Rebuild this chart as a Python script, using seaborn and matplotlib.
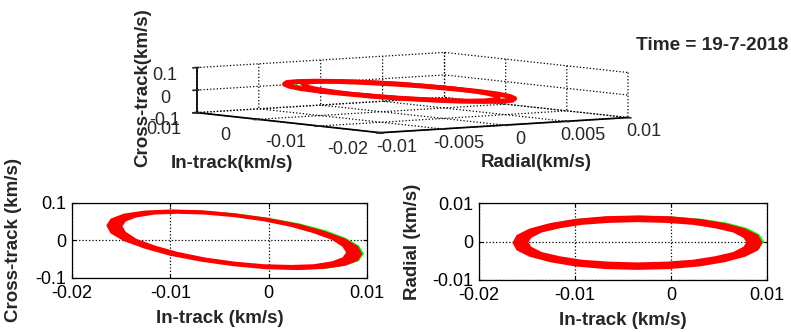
import numpy as np
import matplotlib
matplotlib.use("Agg")
import matplotlib.pyplot as plt
import seaborn as sns

# first orbit (outer edge of the red band), km/s
intrack_a = [0.0094, 0.0090, 0.0077, 0.0056, 0.0030, -0.0002, -0.0035, -0.0068, -0.0100, -0.0126, -0.0147, -0.0160,
             -0.0164, -0.0160, -0.0147, -0.0126, -0.0100, -0.0068, -0.0035, -0.0002, 0.0030, 0.0056, 0.0077, 0.0090]
radial_a = [-0.0003, -0.0021, -0.0037, -0.0051, -0.0062, -0.0069, -0.0071, -0.0069, -0.0062, -0.0051, -0.0037, -0.0021,
            -0.0003, 0.0015, 0.0031, 0.0045, 0.0056, 0.0063, 0.0065, 0.0063, 0.0056, 0.0045, 0.0031, 0.0015]
cross_a = [-0.036, -0.017, 0.003, 0.023, 0.042, 0.058, 0.070, 0.078, 0.080, 0.077, 0.069, 0.056,
           0.040, 0.021, 0.001, -0.019, -0.038, -0.054, -0.066, -0.074, -0.076, -0.073, -0.065, -0.052]

# last orbit (inner edge of the red band)
intrack_b = [0.0080, 0.0076, 0.0065, 0.0046, 0.0023, -0.0005, -0.0035, -0.0065, -0.0093, -0.0116, -0.0135, -0.0146,
             -0.0150, -0.0146, -0.0135, -0.0116, -0.0093, -0.0065, -0.0035, -0.0005, 0.0023, 0.0046, 0.0065, 0.0076]
radial_b = [-0.0002, -0.0016, -0.0030, -0.0041, -0.0050, -0.0055, -0.0057, -0.0055, -0.0050, -0.0041, -0.0030, -0.0016,
            -0.0002, 0.0012, 0.0026, 0.0037, 0.0046, 0.0051, 0.0053, 0.0051, 0.0046, 0.0037, 0.0026, 0.0012]
cross_b = [-0.032, -0.015, 0.004, 0.022, 0.039, 0.054, 0.065, 0.072, 0.074, 0.072, 0.064, 0.053,
           0.038, 0.021, 0.002, -0.016, -0.033, -0.048, -0.059, -0.066, -0.068, -0.066, -0.058, -0.047]

# reference orbit (green)
intrack_g = [0.0095, 0.0091, 0.0078, 0.0058, 0.0032, 0.0001, -0.0032, -0.0065, -0.0096, -0.0122, -0.0142, -0.0155,
             -0.0159, -0.0155, -0.0142, -0.0122, -0.0096, -0.0065, -0.0032, 0.0001, 0.0032, 0.0058, 0.0078, 0.0091]
radial_g = [0.0, -0.0016, -0.0032, -0.0045, -0.0055, -0.0061, -0.0063, -0.0061, -0.0055, -0.0045, -0.0032, -0.0016,
            0.0, 0.0016, 0.0032, 0.0045, 0.0055, 0.0061, 0.0063, 0.0061, 0.0055, 0.0045, 0.0032, 0.0016]
cross_g = [-0.035, -0.017, 0.003, 0.023, 0.041, 0.056, 0.068, 0.075, 0.078, 0.075, 0.067, 0.055,
           0.039, 0.021, 0.001, -0.019, -0.037, -0.052, -0.064, -0.071, -0.074, -0.071, -0.063, -0.051]

intrack_ticks = [-0.02, -0.01, 0, 0.01]
intrack_labels = ["-0.02", "-0.01", "0", "0.01"]
cross_ticks = [-0.1, 0, 0.1]
cross_labels = ["-0.1", "0", "0.1"]
radial_ticks = [-0.01, 0, 0.01]
radial_labels = ["-0.01", "0", "0.01"]
radial3d_ticks = [-0.01, -0.005, 0, 0.005, 0.01]
radial3d_labels = ["-0.01", "-0.005", "0", "0.005", "0.01"]

RED = "#ff0000"
GREEN = "#00ff00"

sns.set_theme(style="white")
plt.rcParams["font.family"] = ["Liberation Sans", "DejaVu Sans"]
plt.rcParams["grid.linestyle"] = ":"
plt.rcParams["grid.color"] = "black"
plt.rcParams["grid.linewidth"] = 0.9
plt.rcParams["axes.edgecolor"] = "black"


def closed(v):
    v = np.asarray(v)
    return np.r_[v, v[:1]]


def draw_band(ax, xa, ya, xb, yb, xg, yg):
    sns.lineplot(x=closed(xg), y=closed(yg), sort=False, estimator=None, color=GREEN, lw=2.2, ax=ax, zorder=2)
    xa, ya, xb, yb = map(np.asarray, (xa, ya, xb, yb))
    ax.fill(np.r_[xa, xa[:1], xb[:1], xb[::-1]], np.r_[ya, ya[:1], yb[:1], yb[::-1]],
            color=RED, lw=0, zorder=3)
    sns.lineplot(x=closed(xa), y=closed(ya), sort=False, estimator=None, color=RED, lw=1.5, ax=ax, zorder=4)
    sns.lineplot(x=closed(xb), y=closed(yb), sort=False, estimator=None, color=RED, lw=1.5, ax=ax, zorder=4)


def style_2d(ax, yticks, ylabels, ylim, ylabel, ylabelpad):
    ax.set_xlim(-0.02, 0.01)
    ax.set_ylim(*ylim)
    ax.set_xticks(intrack_ticks)
    ax.set_xticklabels(intrack_labels)
    ax.set_yticks(yticks)
    ax.set_yticklabels(ylabels)
    ax.grid(True, linestyle=":", color="black", lw=0.9)
    ax.set_axisbelow(True)
    ax.tick_params(direction="in", length=3, width=0.8, top=True, right=True,
                   bottom=True, left=True, labelsize=13, colors="black")
    ax.tick_params(axis="x", pad=5)
    ax.tick_params(axis="y", pad=4)
    for s in ax.spines.values():
        s.set_color("black")
        s.set_linewidth(0.9)
        s.set_zorder(5)
    ax.set_xlabel("In-track (km/s)", fontsize=13.5, fontweight="bold", labelpad=6)
    ax.set_ylabel(ylabel, fontsize=13.5, fontweight="bold", labelpad=ylabelpad)


fig = plt.figure(figsize=(7.91, 3.32), dpi=100)

# bottom left: cross-track vs in-track
ax1 = fig.add_axes([72 / 791, 1 - 278 / 332, 295 / 791, 75 / 332])
draw_band(ax1, intrack_a, cross_a, intrack_b, cross_b, intrack_g, cross_g)
style_2d(ax1, cross_ticks, cross_labels, (-0.1, 0.1), "Cross-track (km/s)", 10)

# bottom right: radial vs in-track
ax2 = fig.add_axes([479 / 791, 1 - 280 / 332, 288 / 791, 77 / 332])
draw_band(ax2, intrack_a, radial_a, intrack_b, radial_b, intrack_g, radial_g)
style_2d(ax2, radial_ticks, radial_labels, (-0.01, 0.01), "Radial (km/s)", 8)

# top: 3D view (radial on x, in-track on y, cross-track on z)
ax3 = fig.add_axes([145 / 791, 1 - 185 / 332, 530 / 791, 180 / 332], projection="3d")
ax3.set_proj_type("ortho")
ax3.plot(closed(radial_g), closed(intrack_g), closed(cross_g), color=GREEN, lw=2.2, clip_on=False)
ax3.plot(closed(radial_a), closed(intrack_a), closed(cross_a), color=RED, lw=3.5, clip_on=False)
ax3.plot(closed(radial_b), closed(intrack_b), closed(cross_b), color=RED, lw=3, clip_on=False)
ax3.set_xlim(-0.01, 0.01)
ax3.set_ylim(-0.02, 0.01)
ax3.set_zlim(-0.1, 0.1)
ax3.set_xticks(radial3d_ticks)
ax3.set_xticklabels(radial3d_labels)
ax3.set_yticks(intrack_ticks)
ax3.set_yticklabels(intrack_labels)
ax3.set_zticks(cross_ticks)
ax3.set_zticklabels(cross_labels)
ax3.set_box_aspect((308, 305, 45), zoom=2.36)
ax3.view_init(elev=4.7, azim=-126.8)
for axis in (ax3.xaxis, ax3.yaxis, ax3.zaxis):
    axis.pane.fill = False
    axis.pane.set_edgecolor("none")
    axis.line.set_color("black")
ax3.tick_params(labelsize=13)
ax3.xaxis.set_tick_params(pad=-2)
ax3.yaxis.set_tick_params(pad=1)
ax3.zaxis.set_tick_params(pad=-3)
ax3.patch.set_alpha(0)

fig.text(143 / 791, 1 - 88 / 332, "Cross-track(km/s)", rotation=90, ha="center", va="center",
         fontsize=13.5, fontweight="bold")
fig.text(232 / 791, 1 - 163 / 332, "In-track(km/s)", ha="center", va="center", fontsize=13.5, fontweight="bold")
fig.text(536 / 791, 1 - 162 / 332, "Radial(km/s)", ha="center", va="center", fontsize=13.5, fontweight="bold")
fig.text(788 / 791, 1 - 45 / 332, "Time = 19-7-2018", ha="right", va="center", fontsize=13.7, fontweight="bold")

fig.savefig("out.png", dpi=100)
